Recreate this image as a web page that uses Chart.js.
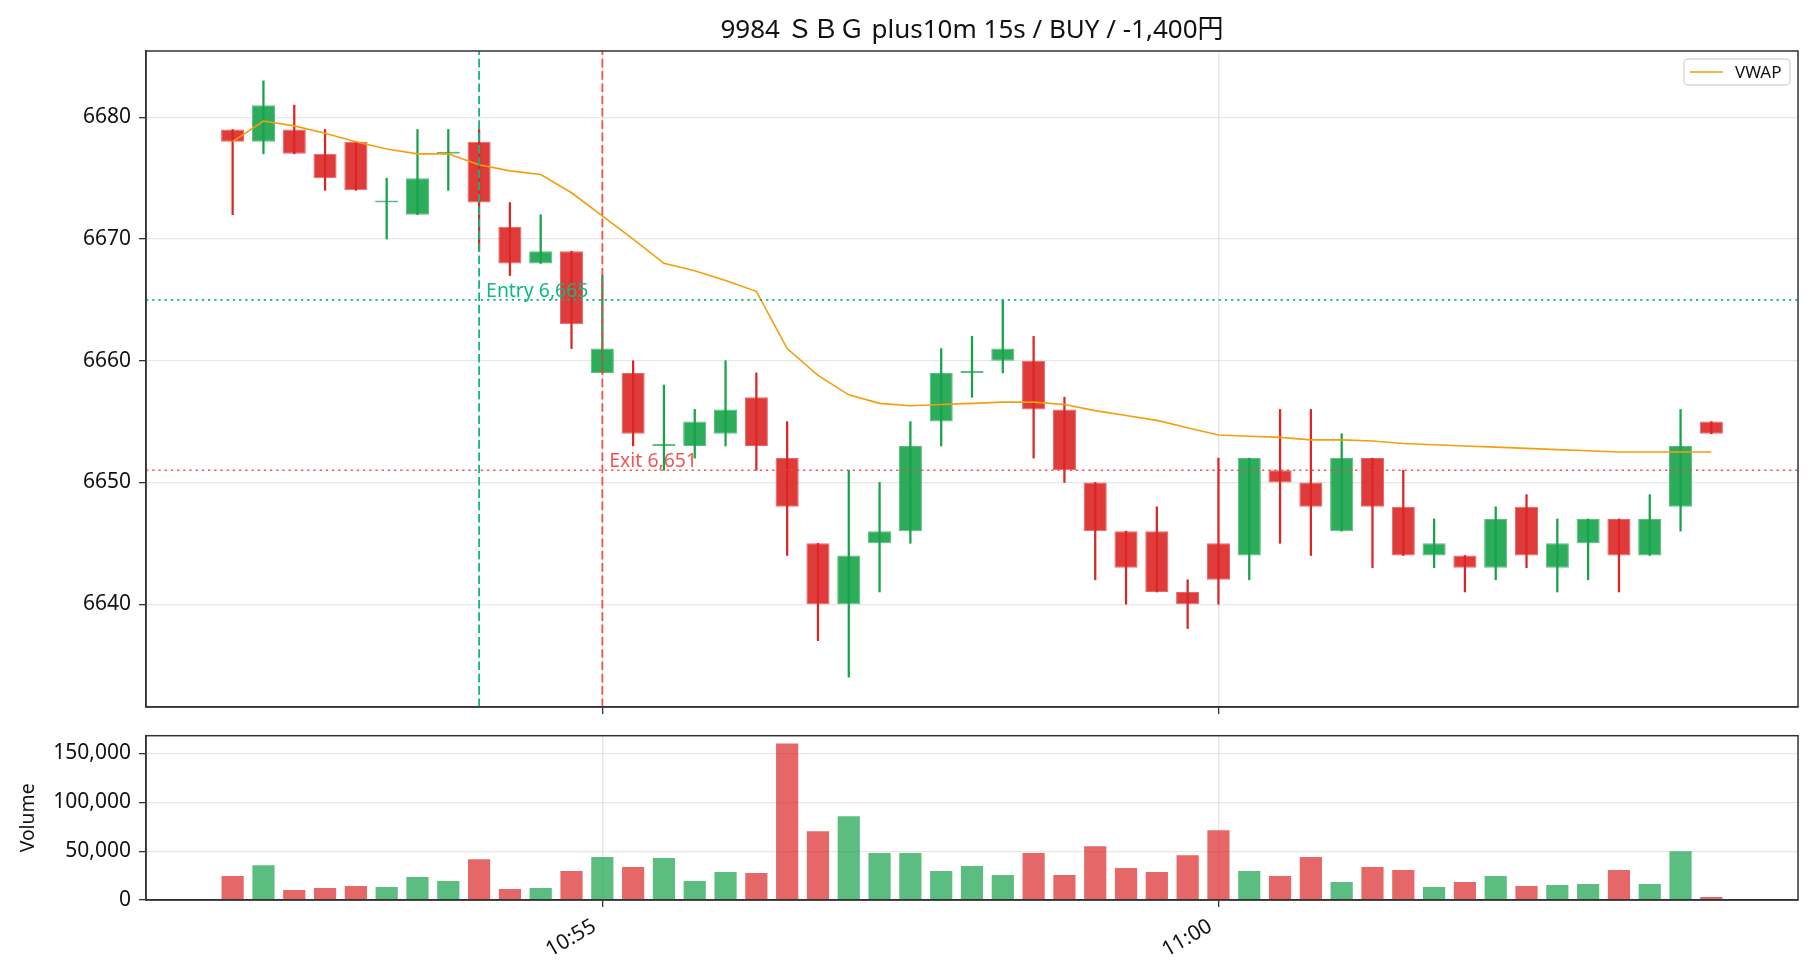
<!DOCTYPE html>
<html>
<head>
<meta charset="utf-8">
<title>9984 SBG plus10m 15s</title>
<script src="https://cdn.jsdelivr.net/npm/chart.js"></script>
<style>
  body { margin: 0; background: #fff; }
  #wrap { position: relative; width: 1820px; height: 980px; }
  #priceChart { position: absolute; left: 0; top: 0; }
  #volChart { position: absolute; left: 0; top: 720px; }
</style>
</head>
<body>
<div id="wrap">
  <canvas id="priceChart" width="1820" height="720"></canvas>
  <canvas id="volChart" width="1820" height="260"></canvas>
</div>
<script>
// ---- data ----
const chartTitle = '9984 ＳＢＧ plus10m 15s / BUY / -1,400円';

const times = [
  '10:52:00', '10:52:15', '10:52:30', '10:52:45', '10:53:00', '10:53:15', '10:53:30', '10:53:45',
  '10:54:00', '10:54:15', '10:54:30', '10:54:45', '10:55:00', '10:55:15', '10:55:30', '10:55:45',
  '10:56:00', '10:56:15', '10:56:30', '10:56:45', '10:57:00', '10:57:15', '10:57:30', '10:57:45',
  '10:58:00', '10:58:15', '10:58:30', '10:58:45', '10:59:00', '10:59:15', '10:59:30', '10:59:45',
  '11:00:00', '11:00:15', '11:00:30', '11:00:45', '11:01:00', '11:01:15', '11:01:30', '11:01:45',
  '11:02:00', '11:02:15', '11:02:30', '11:02:45', '11:03:00', '11:03:15', '11:03:30', '11:03:45',
  '11:04:00'
];
const opens = [
  6679, 6678, 6679, 6677, 6678, 6673, 6672, 6677, 6678, 6671, 6668, 6669, 6659, 6659, 6653, 6653,
  6654, 6657, 6652, 6645, 6640, 6645, 6646, 6655, 6659, 6660, 6660, 6656, 6650, 6646, 6646, 6641,
  6645, 6644, 6651, 6650, 6646, 6652, 6648, 6644, 6644, 6643, 6648, 6643, 6645, 6647, 6644, 6648,
  6655
];
const highs = [
  6679, 6683, 6681, 6679, 6678, 6675, 6679, 6679, 6679, 6673, 6672, 6669, 6667, 6660, 6658, 6656,
  6660, 6659, 6655, 6645, 6651, 6650, 6655, 6661, 6662, 6665, 6662, 6657, 6650, 6646, 6648, 6642,
  6652, 6652, 6656, 6656, 6654, 6652, 6651, 6647, 6644, 6648, 6649, 6647, 6647, 6647, 6649, 6656,
  6655
];
const lows = [
  6672, 6677, 6677, 6674, 6674, 6670, 6672, 6674, 6669, 6667, 6668, 6661, 6659, 6653, 6651, 6652,
  6653, 6651, 6644, 6637, 6634, 6641, 6645, 6653, 6657, 6659, 6652, 6650, 6642, 6640, 6641, 6638,
  6640, 6642, 6645, 6644, 6646, 6643, 6644, 6643, 6641, 6642, 6643, 6641, 6642, 6641, 6644, 6646,
  6654
];
const closes = [
  6678, 6681, 6677, 6675, 6674, 6673, 6675, 6677, 6673, 6668, 6669, 6663, 6661, 6654, 6653, 6655,
  6656, 6653, 6648, 6640, 6644, 6646, 6653, 6659, 6659, 6661, 6656, 6651, 6646, 6643, 6641, 6640,
  6642, 6652, 6650, 6648, 6652, 6648, 6644, 6645, 6643, 6647, 6644, 6645, 6647, 6644, 6647, 6653,
  6654
];
const vwap = [
  6678.0, 6679.7, 6679.3, 6678.7, 6678.0, 6677.4, 6677.0, 6677.0, 6676.1, 6675.6, 6675.3, 6673.8,
  6671.9, 6670.0, 6668.0, 6667.4, 6666.6, 6665.7, 6661.0, 6658.8, 6657.2, 6656.5, 6656.3, 6656.4,
  6656.5, 6656.6, 6656.6, 6656.4, 6655.9, 6655.5, 6655.1, 6654.5, 6653.9, 6653.8, 6653.7, 6653.5,
  6653.5, 6653.4, 6653.2, 6653.1, 6653.0, 6652.9, 6652.8, 6652.7, 6652.6, 6652.5, 6652.5, 6652.5,
  6652.5
];
const volumes = [
  24500, 35700, 10200, 12200, 14300, 13300, 23500, 19400, 41800, 11200, 12200, 29600, 43900, 33700,
  42900, 19400, 28600, 27600, 160200, 70400, 85700, 48000, 48000, 29600, 34700, 25500, 48000, 25500,
  55100, 32700, 28600, 45900, 71400, 29600, 24500, 43900, 18400, 33700, 30600, 13300, 18400, 24500,
  14300, 15300, 16300, 30600, 16300, 50000, 3100
];

const entryTime = '10:54:00';
const entryPrice = 6665;
const exitTime = '10:55:00';
const exitPrice = 6651;

const timeTicks = ['10:55', '11:00'];
const priceTicks = [6640, 6650, 6660, 6670, 6680];
const volumeTicks = [0, 50000, 100000, 150000];

// ---- helpers ----
const toSec = t => {
  const p = t.split(':').map(Number);
  return p[0] * 3600 + p[1] * 60 + (p[2] || 0);
};
const secToLabel = s => {
  const h = Math.floor(s / 3600), m = Math.floor((s % 3600) / 60);
  return h + ':' + String(m).padStart(2, '0');
};

const UP = '22,163,74', DOWN = '220,38,38';
const ENTRY_COLOR = '16,185,129', EXIT_COLOR = '239,68,68';
const FONT = '"Noto Sans", "Noto Sans CJK JP", sans-serif';

const xs = times.map(toSec);
const isUp = closes.map((c, i) => c >= opens[i]);
const rgba = (rgb, a) => `rgba(${rgb},${a})`;

// axis limits like matplotlib's 5% margins
const step = xs[1] - xs[0];
const half = step * 0.375;
const xSpan = xs[xs.length - 1] - xs[0] + 2 * half;
const xMin = xs[0] - half - 0.05 * xSpan;
const xMax = xs[xs.length - 1] + half + 0.05 * xSpan;
const lo = Math.min(...lows), hi = Math.max(...highs);
const yMin = lo - 0.05 * (hi - lo);
const yMax = hi + 0.05 * (hi - lo);
const volMax = Math.max(...volumes) * 1.05;

const gridStyle = {
  color: 'rgba(176,176,176,0.3)',
  lineWidth: 1.3,
  tickColor: '#333',
  tickLength: 7,
  tickWidth: 1.3,
  offset: false
};
const borderStyle = { color: '#333', width: 1.5 };

// fixed y-axis width, and no extra label padding so the plot areas sit where we want
const fixYAxis = s => {
  s.width = 146;
  s.paddingTop = 0;
  s.paddingBottom = 0;
};

// frame (top/right spines)
const framePlugin = {
  id: 'frame',
  afterDraw(chart) {
    const { ctx, chartArea: a } = chart;
    ctx.save();
    ctx.strokeStyle = '#333';
    ctx.lineWidth = 1.5;
    ctx.strokeRect(a.left, a.top, a.right - a.left, a.bottom - a.top);
    ctx.restore();
  }
};

// title, entry / exit labels and the VWAP legend box
const notesPlugin = {
  id: 'notes',
  afterDraw(chart) {
    const { ctx, chartArea: a } = chart;
    const xScale = chart.scales.x, yScale = chart.scales.y;
    ctx.save();

    ctx.font = '26px ' + FONT;
    ctx.fillStyle = '#111';
    ctx.textAlign = 'center';
    ctx.textBaseline = 'middle';
    ctx.fillText(chartTitle, (a.left + a.right) / 2, 31);

    ctx.font = '19.4px ' + FONT;
    ctx.textBaseline = 'alphabetic';
    ctx.textAlign = 'left';
    ctx.fillStyle = rgba(ENTRY_COLOR, 1);
    ctx.fillText('Entry ' + entryPrice.toLocaleString('en-US'),
      xScale.getPixelForValue(toSec(entryTime)) + 7, yScale.getPixelForValue(entryPrice) - 3);
    ctx.fillStyle = rgba(EXIT_COLOR, 0.9);
    ctx.fillText('Exit ' + exitPrice.toLocaleString('en-US'),
      xScale.getPixelForValue(toSec(exitTime)) + 7, yScale.getPixelForValue(exitPrice) - 3);

    // legend
    const w = 106, h = 26;
    const bx = a.right - 8 - w, by = a.top + 8;
    ctx.beginPath();
    ctx.roundRect(bx, by, w, h, 4);
    ctx.fillStyle = 'rgba(255,255,255,0.8)';
    ctx.fill();
    ctx.strokeStyle = '#d6d6d6';
    ctx.lineWidth = 1.3;
    ctx.stroke();
    ctx.beginPath();
    ctx.moveTo(bx + 6, by + h / 2);
    ctx.lineTo(bx + 39, by + h / 2);
    ctx.strokeStyle = '#f59e0b';
    ctx.lineWidth = 1.6;
    ctx.stroke();
    ctx.fillStyle = '#111';
    ctx.font = '17px ' + FONT;
    ctx.textBaseline = 'middle';
    ctx.fillText('VWAP', bx + 51, by + h / 2 + 1);
    ctx.restore();
  }
};

function refLine(points, rgb, alpha, dash, width) {
  return {
    type: 'line',
    data: points,
    borderColor: rgba(rgb, alpha),
    borderWidth: width,
    borderDash: dash,
    pointRadius: 0,
    fill: false,
    order: 0
  };
}

const timeAxis = extra => Object.assign({
  type: 'linear',
  min: xMin,
  max: xMax,
  offset: false,
  afterBuildTicks: s => { s.ticks = timeTicks.map(t => ({ value: toSec(t) })); },
  grid: gridStyle,
  border: borderStyle
}, extra);

// ---- price chart ----
new Chart(document.getElementById('priceChart'), {
  type: 'bar',
  data: {
    datasets: [
      {
        label: 'body',
        data: xs.map((x, i) => ({ x, y: [opens[i], closes[i]] })),
        backgroundColor: isUp.map(u => rgba(u ? UP : DOWN, 0.9)),
        borderColor: isUp.map(u => rgba(u ? UP : DOWN, 0.7)),
        borderWidth: 1,
        borderSkipped: false,
        grouped: false,
        categoryPercentage: 1,
        barPercentage: 0.75,
        minBarLength: 2,
        order: 2
      },
      {
        label: 'wick',
        data: xs.map((x, i) => ({ x, y: [lows[i], highs[i]] })),
        backgroundColor: isUp.map(u => rgba(u ? UP : DOWN, 1)),
        grouped: false,
        barThickness: 1.6,
        order: 3
      },
      {
        type: 'line',
        label: 'VWAP',
        data: xs.map((x, i) => ({ x, y: vwap[i] })),
        borderColor: '#f59e0b',
        borderWidth: 1.6,
        pointRadius: 0,
        fill: false,
        order: 1
      },
      refLine([{ x: xMin, y: entryPrice }, { x: xMax, y: entryPrice }], ENTRY_COLOR, 1, [2.3, 3.9], 1.6),
      refLine([{ x: xMin, y: exitPrice }, { x: xMax, y: exitPrice }], EXIT_COLOR, 0.9, [2.3, 3.9], 1.6),
      refLine([{ x: toSec(entryTime), y: yMin }, { x: toSec(entryTime), y: yMax }], ENTRY_COLOR, 1, [8.6, 3.7], 1.8),
      refLine([{ x: toSec(exitTime), y: yMin }, { x: toSec(exitTime), y: yMax }], EXIT_COLOR, 0.9, [8.6, 3.7], 1.8)
    ]
  },
  options: {
    responsive: false,
    animation: false,
    devicePixelRatio: 1,
    layout: { padding: { left: 0, right: 22, top: 51, bottom: 0 } },
    plugins: {
      legend: { display: false },
      tooltip: { enabled: false },
      title: { display: false }
    },
    scales: {
      x: timeAxis({
        afterFit: s => { s.height = 13; },
        ticks: { display: false }
      }),
      y: {
        min: yMin,
        max: yMax,
        afterBuildTicks: s => { s.ticks = priceTicks.map(v => ({ value: v })); },
        afterFit: fixYAxis,
        ticks: {
          callback: v => String(v),
          color: '#111',
          padding: 8,
          font: { family: FONT, size: 21 }
        },
        grid: gridStyle,
        border: borderStyle
      }
    }
  },
  plugins: [framePlugin, notesPlugin]
});

// ---- volume chart ----
new Chart(document.getElementById('volChart'), {
  type: 'bar',
  data: {
    datasets: [{
      label: 'Volume',
      data: xs.map((x, i) => ({ x, y: volumes[i] })),
      backgroundColor: isUp.map(u => rgba(u ? UP : DOWN, 0.7)),
      categoryPercentage: 1,
      barPercentage: 0.72
    }]
  },
  options: {
    responsive: false,
    animation: false,
    devicePixelRatio: 1,
    layout: { padding: { left: 0, right: 22, top: 15.7, bottom: 0 } },
    plugins: {
      legend: { display: false },
      tooltip: { enabled: false }
    },
    scales: {
      x: timeAxis({
        afterFit: s => { s.height = 80; },
        ticks: {
          callback: v => secToLabel(v),
          color: '#111',
          minRotation: 30,
          maxRotation: 30,
          padding: 7,
          labelOffset: -8,
          font: { family: FONT, size: 21 }
        }
      }),
      y: {
        min: 0,
        max: volMax,
        afterBuildTicks: s => { s.ticks = volumeTicks.map(v => ({ value: v })); },
        afterFit: fixYAxis,
        ticks: {
          callback: v => v.toLocaleString('en-US'),
          color: '#111',
          padding: 8,
          font: { family: FONT, size: 21 }
        },
        title: {
          display: true,
          text: 'Volume',
          color: '#111',
          font: { family: FONT, size: 19.4 },
          padding: { top: 17, bottom: 0 }
        },
        grid: gridStyle,
        border: borderStyle
      }
    }
  },
  plugins: [framePlugin]
});
</script>
</body>
</html>
